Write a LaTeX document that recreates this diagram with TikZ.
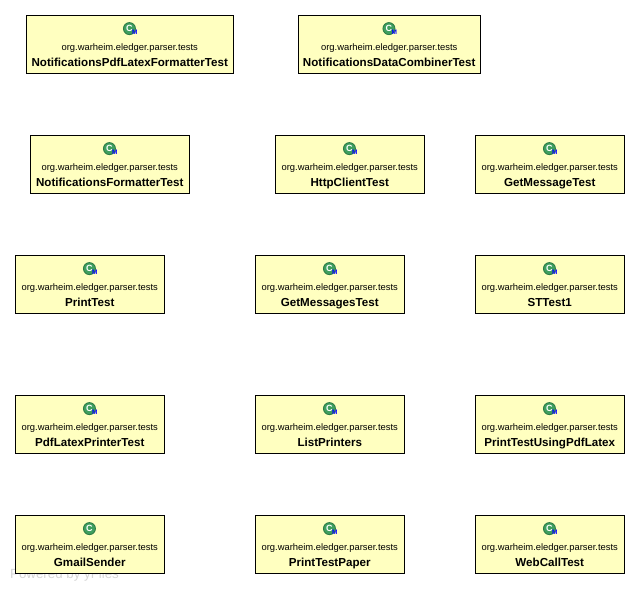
\documentclass[tikz,border=0pt]{standalone}
\usepackage{fontspec}
\setmainfont{Liberation Sans}
\definecolor{boxfill}{HTML}{FFFFC0}
\definecolor{iconedge}{HTML}{2E7D46}
\definecolor{iconfill}{HTML}{3F9F5F}
\definecolor{wm}{HTML}{D6D6D6}
\tikzset{
  x=1pt,y=-1pt,
  classbox/.style={draw=black,fill=boxfill,line width=0.9pt,minimum height=58.8pt,inner sep=0pt,anchor=north west},
  pkg/.style={font=\fontsize{9.4}{10}\selectfont,inner sep=0pt,text=black,anchor=base},
  cname/.style={font=\fontsize{11.6}{12}\bfseries\selectfont,inner sep=0pt,text=black,anchor=base},
  iconc/.style={circle,draw=iconedge,line width=0.9pt,fill=iconfill,minimum size=12pt,inner sep=0pt,text=white,font=\fontsize{9}{9}\bfseries\selectfont},
  iconm/.style={inner sep=0pt,text=blue,font=\fontsize{6.5}{6.5}\bfseries\selectfont},
}
% #1 name, #2 left, #3 width, #4 top, #5 label, #6 extra icon mark
\newcommand{\classnode}[6]{%
  \node[classbox,minimum width=#3pt] (#1) at (#2,#4) {};
  \node[iconc] (#1c) at ([xshift=-0.5pt,yshift=-14pt]#1.north) {C};
  #6
  \node[pkg] (#1p) at ([xshift=-0.2pt,yshift=-36pt]#1.north) {org.warheim.eledger.parser.tests};
  \node[cname] (#1n) at ([xshift=-0.2pt,yshift=-51.8pt]#1.north) {#5};
}
\newcommand{\mk}[1]{\node[iconm] (#1m) at ([xshift=5.3pt,yshift=-4pt]#1c.center) {M};}
\begin{document}
\begin{tikzpicture}
\useasboundingbox (0,0) rectangle (640,590);
\node[anchor=base west,inner sep=0pt,text=wm,font=\fontsize{13.3}{14}\selectfont] (wmark) at (10,578) {Powered by yFiles};
\classnode{a}{25.6}{207.8}{14.6}{NotificationsPdfLatexFormatterTest}{\mk{a}}
\classnode{b}{297.6}{182.8}{14.6}{NotificationsDataCombinerTest}{\mk{b}}
\classnode{c}{29.6}{159.8}{134.6}{NotificationsFormatterTest}{\mk{c}}
\classnode{d}{274.6}{149.8}{134.6}{HttpClientTest}{\mk{d}}
\classnode{e}{474.6}{149.8}{134.6}{GetMessageTest}{\mk{e}}
\classnode{f}{14.6}{149.8}{254.6}{PrintTest}{\mk{f}}
\classnode{g}{254.6}{149.8}{254.6}{GetMessagesTest}{\mk{g}}
\classnode{h}{474.6}{149.8}{254.6}{STTest1}{\mk{h}}
\classnode{i}{14.6}{149.8}{394.6}{PdfLatexPrinterTest}{\mk{i}}
\classnode{j}{254.6}{149.8}{394.6}{ListPrinters}{\mk{j}}
\classnode{k}{474.6}{149.8}{394.6}{PrintTestUsingPdfLatex}{\mk{k}}
\classnode{l}{14.6}{149.8}{514.6}{GmailSender}{}
\classnode{m}{254.6}{149.8}{514.6}{PrintTestPaper}{\mk{m}}
\classnode{n}{474.6}{149.8}{514.6}{WebCallTest}{\mk{n}}
\end{tikzpicture}
\end{document}
